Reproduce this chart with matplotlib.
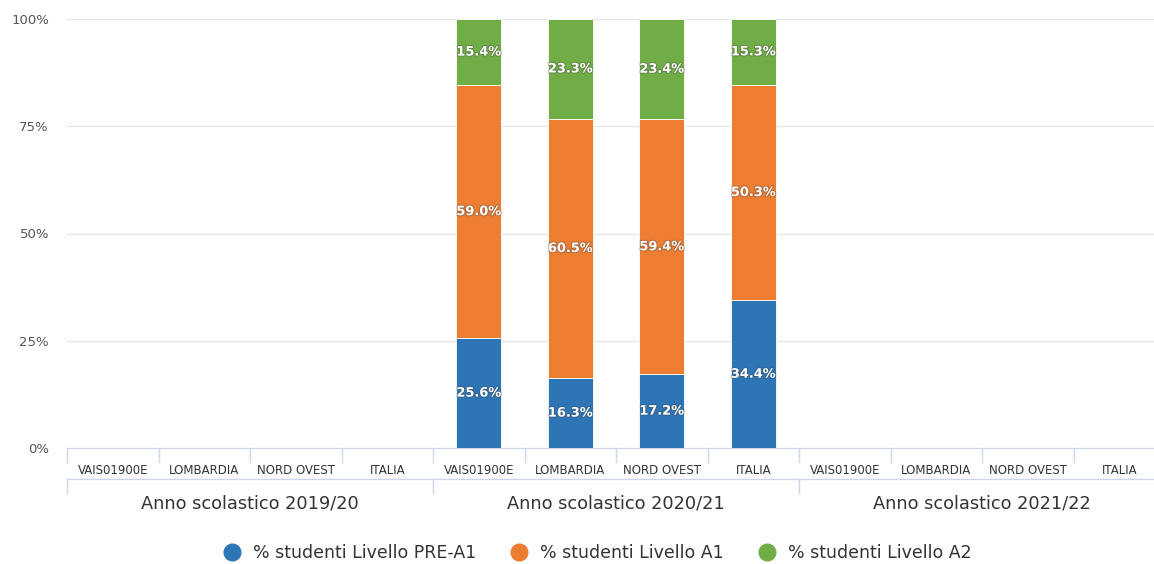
import numpy as np
import matplotlib
matplotlib.use("Agg")
import matplotlib.pyplot as plt
import matplotlib.transforms as mtransforms
import matplotlib.patheffects as pe
from matplotlib.lines import Line2D

# Dati
anni = ["Anno scolastico 2019/20", "Anno scolastico 2020/21", "Anno scolastico 2021/22"]
territori = ["VAIS01900E", "LOMBARDIA", "NORD OVEST", "ITALIA"]
serie = ["% studenti Livello PRE-A1", "% studenti Livello A1", "% studenti Livello A2"]
colori = ["#2e75b6", "#ed7d31", "#70ad47"]

nan = np.nan
pre_a1 = [nan, nan, nan, nan, 25.6, 16.3, 17.2, 34.4, nan, nan, nan, nan]
liv_a1 = [nan, nan, nan, nan, 59.0, 60.5, 59.4, 50.3, nan, nan, nan, nan]
liv_a2 = [nan, nan, nan, nan, 15.4, 23.3, 23.4, 15.3, nan, nan, nan, nan]
y_ticks = [0, 25, 50, 75, 100]

W, H = 1154, 564
fig = plt.figure(figsize=(W / 100, H / 100), dpi=100)
ax = fig.add_axes([67 / W, (H - 448) / H, 12 * 91.5 / W, 429 / H])

n = len(anni) * len(territori)
x = np.arange(n)
valori = [np.array(pre_a1), np.array(liv_a1), np.array(liv_a2)]

# normalizzo a 100% (stacking percentuale)
tot = valori[0] + valori[1] + valori[2]
bottom = np.zeros(n)
for vals, col, nome in zip(valori, colori, serie):
    h = vals / tot * 100
    ax.bar(x, h, width=0.49, bottom=bottom, color=col, label=nome,
           edgecolor="white", linewidth=0.6, zorder=3)
    for xi, b, hi, v in zip(x, bottom, h, vals):
        if np.isnan(v):
            continue
        ax.text(xi, b + hi / 2, f"{v:.1f}%", ha="center", va="center",
                color="white", fontsize=9.3, fontweight="bold", zorder=4,
                path_effects=[pe.withStroke(linewidth=1.5, foreground="#444444", alpha=0.35)])
    bottom = np.where(np.isnan(h), bottom, bottom + np.nan_to_num(h))

ax.set_xlim(-0.5, n - 0.5)
ax.set_ylim(0, 100)
ax.set_yticks(y_ticks)
ax.set_yticklabels([f"{t}%" for t in y_ticks], color="#555555", fontsize=9.5)
ax.tick_params(axis="y", length=0, pad=13)
ax.grid(axis="y", color="#e6e6e6", linewidth=1, zorder=0)
for s in ["top", "right", "left"]:
    ax.spines[s].set_visible(False)
ax.spines["bottom"].set_color("#ccd6eb")
ax.set_xticks([])

# assi categorie raggruppate
trans = mtransforms.blended_transform_factory(ax.transData, ax.transAxes)
px = 1 / 429  # un pixel in coordinate assi
asse_col = "#ccd6eb"
for i in range(n + 1):
    ax.add_line(Line2D([i - 0.5, i - 0.5], [0, -14 * px], transform=trans,
                       color=asse_col, lw=1, clip_on=False))
for i, t in enumerate(territori * len(anni)):
    ax.text(i, -22 * px, t, transform=trans, ha="center", va="center",
            fontsize=8.5, color="#333333", clip_on=False)
ax.add_line(Line2D([-0.5, n - 0.5], [-31 * px, -31 * px], transform=trans,
                   color=asse_col, lw=1, clip_on=False))
ng = len(territori)
for g in range(len(anni) + 1):
    xg = g * ng - 0.5
    ax.add_line(Line2D([xg, xg], [-31 * px, -45 * px], transform=trans,
                       color=asse_col, lw=1, clip_on=False))
for g, a in enumerate(anni):
    ax.text(g * ng + (ng - 1) / 2, -55 * px, a, transform=trans, ha="center",
            va="center", fontsize=12.8, color="#333333", clip_on=False)

# legenda
handles = [Line2D([], [], marker="o", linestyle="none", markersize=12,
                  markerfacecolor=c, markeredgecolor=c) for c in colori]
fig.legend(handles, serie, loc="center", bbox_to_anchor=(0.514, (H - 553) / H),
           ncol=3, frameon=False, fontsize=12.5, handletextpad=0.2,
           columnspacing=1.5, labelcolor="#333333")

fig.savefig("out.png", dpi=100)
